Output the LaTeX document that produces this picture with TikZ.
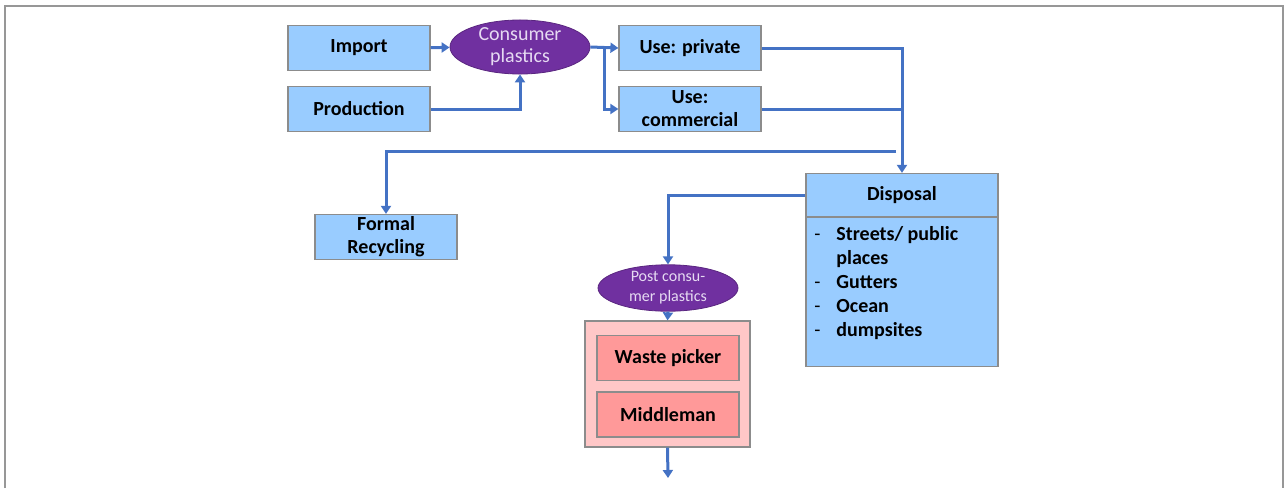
\documentclass[tikz,border=0pt]{standalone}
\usepackage{fontspec}
\setmainfont{Carlito}
\usetikzlibrary{arrows.meta,shapes.geometric}
\definecolor{boxblue}{HTML}{99CCFF}
\definecolor{flowblue}{HTML}{4472C4}
\definecolor{plasticpurple}{HTML}{7030A0}
\definecolor{lavender}{HTML}{E6DAF2}
\definecolor{pinkback}{HTML}{FFC7C7}
\definecolor{pinkbox}{HTML}{FF9999}
\definecolor{edgegray}{HTML}{8C8C8C}
\tikzset{
  flow chart/.style={
    x=0.5pt, y=-0.5pt,
    stage/.style={rectangle, draw=edgegray, semithick, fill=boxblue,
      minimum width=71pt, minimum height=22.5pt, inner sep=1pt,
      align=center, font={\bfseries\fontsize{10}{11.5}\selectfont}},
    plastics/.style={ellipse, fill=plasticpurple, draw=plasticpurple!80!black,
      minimum width=70pt, minimum height=22.5pt, inner sep=0pt,
      align=center, text=lavender},
    actor/.style={stage, fill=pinkbox},
    actor group/.style={rectangle, draw=edgegray, semithick, fill=pinkback,
      minimum width=82.5pt, minimum height=63pt},
    flow/.style={flowblue, line width=1.5pt,
      -{Triangle[length=4pt,width=5pt]}},
    feed/.style={flowblue, line width=1.5pt},
  }
}

\begin{document}
\begin{tikzpicture}[flow chart]
    \useasboundingbox (0,0) rectangle (1284,488);
    \draw[edgegray!90, line width=0.8pt] (5,488) -- (5,6) -- (1283,6) -- (1283,488);

    % sources and use
    \node[stage] (import) at (359,48) {Import};
    \node[stage] (production) at (359,109) {Production};
    \node[plastics, font={\fontsize{10}{11}\selectfont}] (consumer) at (520,47) {Consumer\\plastics};
    \node[stage] (private) at (690,48) {Use: private};
    \node[stage] (commercial) at (690,109) {Use:\\commercial};

    % disposal and recovery
    \node[stage, minimum width=96pt, minimum height=21.5pt] (disposal) at (902,195) {Disposal};
    \node[stage, anchor=north, minimum width=96pt, minimum height=74.5pt] (disposallist) at (disposal.south) {};
    \node[anchor=north west, inner sep=0pt, font={\bfseries\fontsize{10}{12}\selectfont}] (places) at (814,223)
        {\begin{tabular}{@{}p{11pt}@{}l@{}}
         \mdseries - & Streets/ public\\
           & places\\
         \mdseries - & Gutters\\
         \mdseries - & Ocean\\
         \mdseries - & dumpsites
         \end{tabular}};
    \node[stage] (recycling) at (386,237) {Formal\\Recycling};
    \node[plastics, font={\fontsize{8}{10}\selectfont}] (postconsumer) at (668,288) {Post consu-\\mer plastics};
    \node[actor group] (pickers) at (667.5,384) {};
    \node[actor] (wastepicker) at (668,358) {Waste picker};
    \node[actor] (middleman) at (668,414.5) {Middleman};

    \coordinate (split) at (604,48);
    \coordinate (join) at (902,109);
    \coordinate (tap) at (896,151);
    \coordinate (outlet) at (668,478);

    % connectors
    \draw[flow] (import) -- (consumer);
    \draw[flow] (production.east) -| (consumer.south);
    \draw[flow] (consumer.east) -- (private.west);
    \draw[flow] (split) |- (commercial.west);
    \draw[flow] (private.east) -| (disposal.north);
    \draw[feed] (commercial.east) -- (join);
    \draw[flow] (tap) -| (recycling.north);
    \draw[flow] (disposal.west) -| (postconsumer.north);
    \draw[flow] (postconsumer.south) -- (pickers.north);
    \draw[flow] (pickers.south) -- (outlet);
\end{tikzpicture}
\end{document}
